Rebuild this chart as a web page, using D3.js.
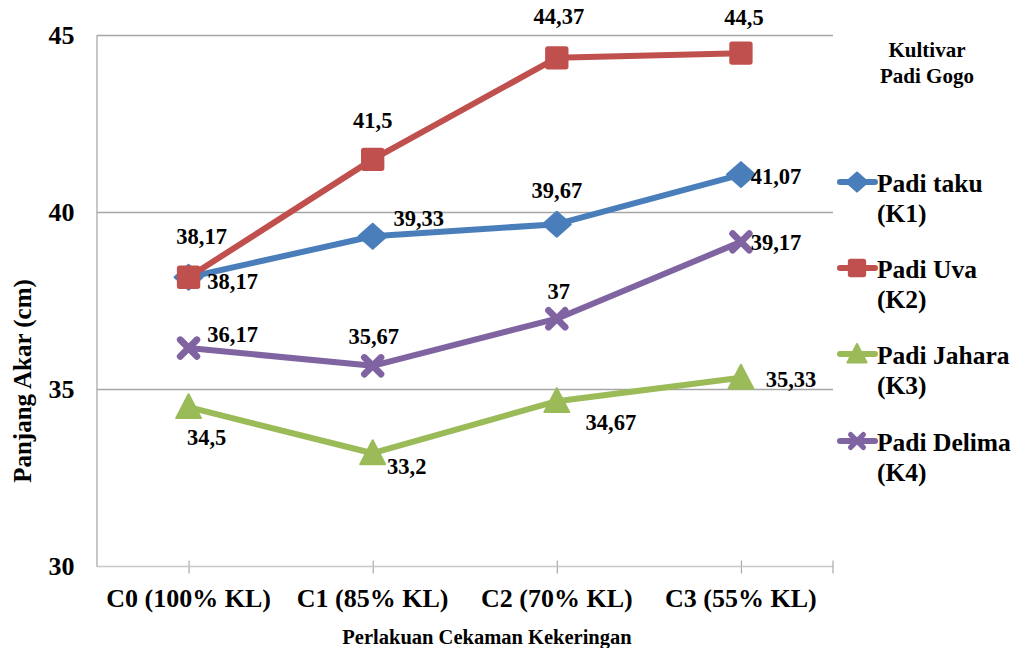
<!DOCTYPE html>
<html>
<head>
<meta charset="utf-8">
<script src="https://cdn.jsdelivr.net/npm/d3@7"></script>
</head>
<body style="margin:0;padding:0;background:#fff;">
<svg id="chart" width="1018" height="648" style="display:block;"></svg>
<script>
// Treatment levels (drought stress)
const categories = ["C0 (100% KL)", "C1 (85% KL)", "C2 (70% KL)", "C3 (55% KL)"];

// Root length (cm) per cultivar
const seriesNames = ["Padi taku", "Padi Uva", "Padi Jahara", "Padi Delima"];
const seriesCodes = ["(K1)", "(K2)", "(K3)", "(K4)"];
const padiTaku   = [38.17, 39.33, 39.67, 41.07];
const padiUva    = [38.17, 41.5, 44.37, 44.5];
const padiJahara = [34.5, 33.2, 34.67, 35.33];
const padiDelima = [36.17, 35.67, 37, 39.17];

// Y axis ticks
const yTicks = [30, 35, 40, 45];

// Styling per series
const colors  = ["#4A7EBB", "#C0504D", "#9BBB59", "#8064A2"];
const symbols = ["diamond", "square", "triangle", "cross"];

// Data label offsets (from point centre) per series, per category
const labelOffsets = [
  [[44, 4], [46, -18], [0, -34], [35, 2]],
  [[13, -41], [0, -39], [2, -41], [3, -36]],
  [[18, 30], [34, 13], [54, 21], [50, 2]],
  [[44, -14], [1, -29], [2, -27], [35, 1]]
];

const seriesValues = [padiTaku, padiUva, padiJahara, padiDelima];
const fmt = v => String(v).replace(".", ",");
const FONT = '"Liberation Serif"';

const svg = d3.select("#chart");
const plot = { left: 96.5, right: 833, top: 35.5, bottom: 566.5 };

const x = d3.scalePoint().domain(categories).range([plot.left, plot.right]).padding(0.5);
const y = d3.scaleLinear().domain([30, 45]).range([plot.bottom, plot.top]);

function styleText(sel, size) {
  return sel.attr("font-family", null)
    .style("font-family", FONT).style("font-weight", "bold")
    .style("font-size", size + "px").style("fill", "#000");
}

// Horizontal gridlines
svg.append("g").selectAll("line")
  .data(yTicks.filter(t => t > 30))
  .join("line")
  .attr("x1", plot.left).attr("x2", plot.right)
  .attr("y1", d => y(d)).attr("y2", d => y(d))
  .attr("stroke", "#a6a6a6").attr("stroke-width", 1.5);

// Y axis (line + labels)
const yAxis = svg.append("g")
  .attr("transform", `translate(${plot.left},0)`)
  .call(d3.axisLeft(y).tickValues(yTicks).tickSize(0).tickPadding(22));
yAxis.attr("font-family", null).attr("font-size", null);
yAxis.select(".domain").attr("stroke", "#b5b5b5").attr("stroke-width", 1.5);
styleText(yAxis.selectAll("text"), 26);

// X axis with cross tick marks
const xAxis = svg.append("g")
  .attr("transform", `translate(0,${plot.bottom})`)
  .call(d3.axisBottom(x).tickSize(0).tickPadding(0));
xAxis.attr("font-family", null).attr("font-size", null);
xAxis.select(".domain").remove();
xAxis.selectAll("text").remove();
xAxis.append("line")
  .attr("x1", plot.left).attr("x2", plot.right)
  .attr("stroke", "#c8c8c8").attr("stroke-width", 1.5);
xAxis.selectAll(".tick line")
  .attr("y1", -6).attr("y2", 7)
  .attr("stroke", "#aaaaaa").attr("stroke-width", 1.2);
xAxis.append("line")
  .attr("x1", plot.right).attr("x2", plot.right)
  .attr("y1", -6).attr("y2", 7)
  .attr("stroke", "#aaaaaa").attr("stroke-width", 1.2);

// Category labels
styleText(svg.append("g").selectAll("text")
  .data(categories)
  .join("text")
  .attr("x", d => x(d)).attr("y", 607)
  .attr("text-anchor", "middle")
  .text(d => d), 26);

// Axis titles
styleText(svg.append("text")
  .attr("transform", "translate(31,381) rotate(-90)")
  .attr("text-anchor", "middle")
  .text("Panjang Akar (cm)"), 25);
styleText(svg.append("text")
  .attr("x", 487).attr("y", 644)
  .attr("text-anchor", "middle")
  .text("Perlakuan Cekaman Kekeringan"), 20.5);

// Marker shapes
function marker(sel, kind, color, s) {
  if (kind === "diamond") {
    sel.append("path")
      .attr("d", `M0,${-s*0.48}L${s*0.54},0L0,${s*0.48}L${-s*0.54},0Z`)
      .attr("fill", color).attr("stroke", color).attr("stroke-width", 2).attr("stroke-linejoin", "round");
  } else if (kind === "square") {
    sel.append("rect")
      .attr("x", -s*0.42).attr("y", -s*0.42).attr("width", s*0.84).attr("height", s*0.84)
      .attr("rx", 2)
      .attr("fill", color).attr("stroke", color).attr("stroke-width", 1.5);
  } else if (kind === "triangle") {
    sel.append("path")
      .attr("d", `M0,${-s*0.5}L${s*0.48},${s*0.42}L${-s*0.48},${s*0.42}Z`)
      .attr("fill", color).attr("stroke", color).attr("stroke-width", 2).attr("stroke-linejoin", "round");
  } else {
    const a = s * 0.32;
    sel.append("path")
      .attr("d", `M${-a},${-a}L${a},${a}M${a},${-a}L${-a},${a}`)
      .attr("stroke", color).attr("stroke-width", s*0.26).attr("stroke-linecap", "round");
  }
}

const line = d3.line().x((d, i) => x(categories[i])).y(d => y(d));

// Series lines and markers
seriesValues.forEach((vals, si) => {
  const g = svg.append("g");
  g.append("path")
    .datum(vals)
    .attr("d", line)
    .attr("fill", "none")
    .attr("stroke", colors[si])
    .attr("stroke-width", 6)
    .attr("stroke-linejoin", "round")
    .attr("stroke-linecap", "round");
  vals.forEach((v, i) => {
    const m = g.append("g").attr("transform", `translate(${x(categories[i])},${y(v)})`);
    marker(m, symbols[si], colors[si], 26);
  });
});

// Data labels
seriesValues.forEach((vals, si) => {
  styleText(svg.append("g").selectAll("text")
    .data(vals)
    .join("text")
    .attr("x", (d, i) => x(categories[i]) + labelOffsets[si][i][0])
    .attr("y", (d, i) => y(d) + labelOffsets[si][i][1])
    .attr("text-anchor", "middle")
    .attr("dominant-baseline", "central")
    .text(d => fmt(d)), 22.5);
});

// Legend title
const legendTitle = styleText(svg.append("text")
  .attr("x", 927).attr("y", 57)
  .attr("text-anchor", "middle"), 21);
legendTitle.append("tspan").attr("x", 927).attr("dy", 0).text("Kultivar");
legendTitle.append("tspan").attr("x", 927).attr("dy", 26).text("Padi Gogo");

// Legend entries
const legendY = [192, 278, 364, 451];
seriesNames.forEach((name, si) => {
  const g = svg.append("g").attr("transform", `translate(0,${legendY[si]})`);
  g.append("line")
    .attr("x1", 840).attr("x2", 875).attr("y1", -10).attr("y2", -10)
    .attr("stroke", colors[si]).attr("stroke-width", 6).attr("stroke-linecap", "round");
  const m = g.append("g").attr("transform", "translate(857,-10)");
  marker(m, symbols[si], colors[si], 20);
  const t = styleText(g.append("text"), 25.5);
  t.append("tspan").attr("x", 877).attr("dy", 0).text(name);
  t.append("tspan").attr("x", 877).attr("dy", 30).text(seriesCodes[si]);
});
</script>
</body>
</html>
